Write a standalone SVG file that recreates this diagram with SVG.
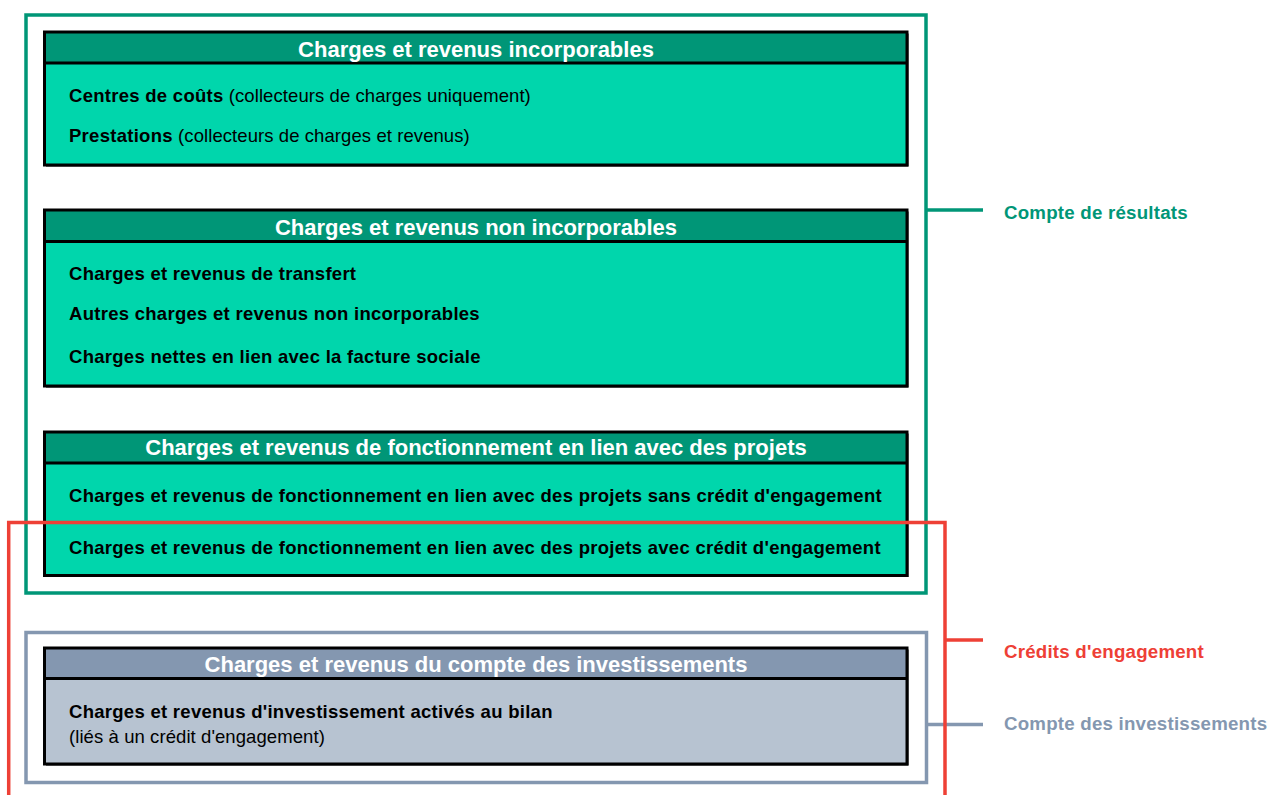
<svg xmlns="http://www.w3.org/2000/svg" width="1269" height="795" viewBox="0 0 1269 795">
<style>
  text { font-family: "Liberation Sans", Arial, sans-serif; }
  .title { font-size: 22px; font-weight: bold; fill: #ffffff; text-anchor: middle; }
  .item { font-size: 18.5px; fill: #000000; letter-spacing: 0.08px; }
  .b { font-weight: bold; letter-spacing: 0.28px; }
  .border { fill: none; stroke: #000000; stroke-width: 3; }
  .sep { stroke: #000000; stroke-width: 3; }
  .gbody { fill: #00D6AC; }
  .ghead { fill: #009677; }
  .bbody { fill: #B7C3D1; }
  .bhead { fill: #8497B0; }
  .shadow { fill: #000000; }
  .lbl { font-size: 18.7px; font-weight: bold; letter-spacing: 0.22px; }
</style>

<g id="frame-resultats">
  <rect x="26" y="15" width="900" height="578" fill="none" stroke="#009677" stroke-width="3.5"/>
</g>
<g id="frame-investissements">
  <rect x="26" y="632.5" width="900.5" height="150" fill="none" stroke="#8497B0" stroke-width="3.5"/>
</g>

<g id="box-incorporables">
  <rect class="shadow" x="46" y="33.5" width="862.5" height="133"/>
  <rect class="gbody" x="44.5" y="32" width="862.5" height="133"/>
  <rect class="ghead" x="44.5" y="32" width="862.5" height="31"/>
  <line class="sep" x1="44.5" y1="63" x2="907" y2="63"/>
  <rect class="border" x="44.5" y="32" width="862.5" height="133"/>
  <text class="title" x="476" y="57">Charges et revenus incorporables</text>
  <text class="item" x="69" y="102"><tspan class="b">Centres de coûts</tspan> (collecteurs de charges uniquement)</text>
  <text class="item" x="69" y="142"><tspan class="b">Prestations</tspan> (collecteurs de charges et revenus)</text>
</g>

<g id="box-non-incorporables">
  <rect class="shadow" x="46" y="211.5" width="862.5" height="176"/>
  <rect class="gbody" x="44.5" y="210" width="862.5" height="176"/>
  <rect class="ghead" x="44.5" y="210" width="862.5" height="31.5"/>
  <line class="sep" x1="44.5" y1="241.5" x2="907" y2="241.5"/>
  <rect class="border" x="44.5" y="210" width="862.5" height="176"/>
  <text class="title" x="476" y="235">Charges et revenus non incorporables</text>
  <text class="item b" x="69" y="280">Charges et revenus de transfert</text>
  <text class="item b" x="69" y="320">Autres charges et revenus non incorporables</text>
  <text class="item b" x="69" y="363">Charges nettes en lien avec la facture sociale</text>
</g>

<g id="box-projets">
  <rect class="shadow" x="46" y="433.5" width="862.5" height="143.5"/>
  <rect class="gbody" x="44.5" y="432" width="862.5" height="143.5"/>
  <rect class="ghead" x="44.5" y="432" width="862.5" height="31"/>
  <line class="sep" x1="44.5" y1="463" x2="907" y2="463"/>
  <rect class="border" x="44.5" y="432" width="862.5" height="143.5"/>
  <text class="title" x="476" y="455">Charges et revenus de fonctionnement en lien avec des projets</text>
  <text class="item b" x="69" y="502">Charges et revenus de fonctionnement en lien avec des projets sans crédit d'engagement</text>
  <text class="item b" x="69" y="554">Charges et revenus de fonctionnement en lien avec des projets avec crédit d'engagement</text>
</g>

<g id="box-investissements">
  <rect class="shadow" x="46" y="649.5" width="862.5" height="116"/>
  <rect class="bbody" x="44.5" y="648" width="862.5" height="116"/>
  <rect class="bhead" x="44.5" y="648" width="862.5" height="30.5"/>
  <line class="sep" x1="44.5" y1="678.5" x2="907" y2="678.5"/>
  <rect class="border" x="44.5" y="648" width="862.5" height="116"/>
  <text class="title" x="476" y="672">Charges et revenus du compte des investissements</text>
  <text class="item b" x="69" y="718">Charges et revenus d'investissement activés au bilan</text>
  <text class="item" x="69" y="743">(liés à un crédit d'engagement)</text>
</g>

<g id="connectors">
  <line x1="926" y1="210" x2="983" y2="210" stroke="#009677" stroke-width="3.5"/>
  <line x1="926" y1="724.5" x2="983" y2="724.5" stroke="#8497B0" stroke-width="3.5"/>
  <polyline points="8.7,795 8.7,522.5 945,522.5 945,795" fill="none" stroke="#EE4036" stroke-width="3.5"/>
  <line x1="945" y1="640" x2="983" y2="640" stroke="#EE4036" stroke-width="3.5"/>
</g>

<g id="labels">
  <text class="lbl" x="1004" y="219" fill="#009677">Compte de résultats</text>
  <text class="lbl" x="1004" y="658" fill="#EE4036">Crédits d'engagement</text>
  <text class="lbl" x="1004" y="730" fill="#8497B0">Compte des investissements</text>
</g>
</svg>
